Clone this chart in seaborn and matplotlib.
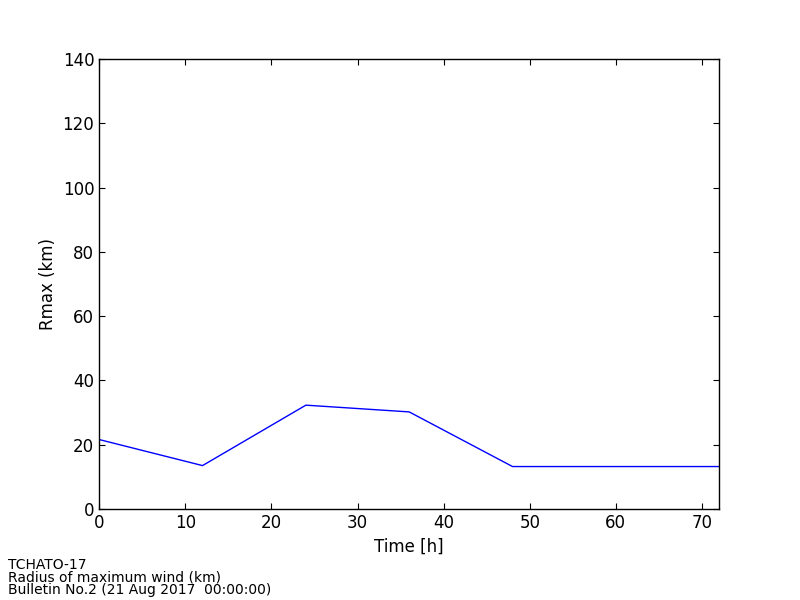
import seaborn as sns
import matplotlib
matplotlib.use("Agg")
import matplotlib.pyplot as plt
import pandas as pd

# === Data ===
hours = [0, 12, 24, 36, 48, 60, 72]
rmax = [21.6, 13.5, 32.3, 30.2, 13.2, 13.2, 13.2]
info_lines = ["TCHATO-17", "Radius of maximum wind (km)", "Bulletin No.2 (21 Aug 2017  00:00:00)"]

df = pd.DataFrame({"time": hours, "rmax": rmax})

sns.set_style("ticks")
plt.rcParams["font.family"] = ["DejaVu Sans"]
plt.rcParams["text.color"] = "black"
plt.rcParams["axes.labelcolor"] = "black"
plt.rcParams["xtick.color"] = "black"
plt.rcParams["ytick.color"] = "black"

fig = plt.figure(figsize=(8, 6), dpi=100)
ax = fig.add_axes([0.124, 0.1517, 0.775, 0.75])

sns.lineplot(data=df, x="time", y="rmax", color="blue", linewidth=1.0, ax=ax)

ax.set_xlim(0, 72)
ax.set_ylim(0, 140)
ax.set_xticks(range(0, 71, 10))
ax.set_yticks(range(0, 141, 20))
ax.set_xlabel("Time [h]", fontsize=12)
ax.set_ylabel("Rmax (km)", fontsize=12)
ax.tick_params(direction="in", top=True, right=True, labelsize=12, length=4, width=0.8,
               color="black", labelcolor="black")
for s in ax.spines.values():
    s.set_visible(True)
    s.set_color("black")
    s.set_linewidth(1.0)

# bulletin info at bottom left, one line each
for i, line in enumerate(info_lines):
    fig.text(0.01, 0.0517 - i * 0.0208, line, fontsize=10, va="baseline", ha="left", color="black")

fig.savefig("out.png", dpi=100)
